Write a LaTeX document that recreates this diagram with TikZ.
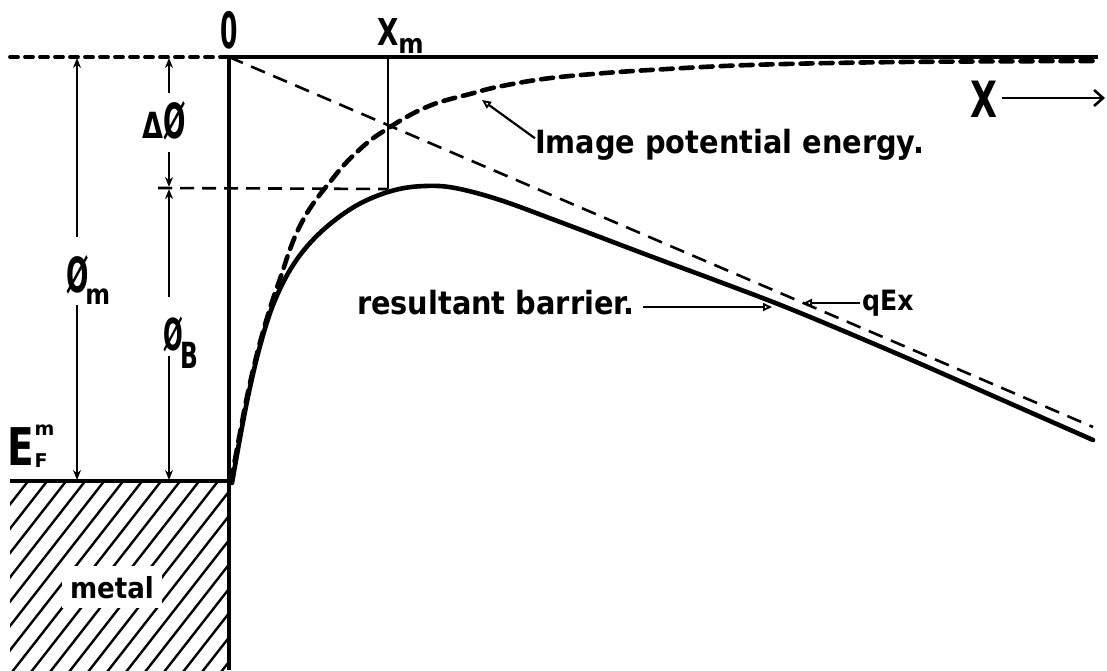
\documentclass[tikz,border=0pt]{standalone}
\usepackage{fontspec}
\setmainfont{DejaVu Sans}
\usetikzlibrary{arrows.meta}
\newcommand\fsz[1]{\fontsize{#1}{#1}\selectfont}
\newcommand\lab[2]{\fsz{#1}\bfseries\scalebox{0.9}[1]{#2}}
\begin{document}
\begin{tikzpicture}[x=1pt,y=-1pt,
  heavy/.style={line width=3.8pt},
  curve/.style={line width=4.6pt, line cap=round, line join=round},
  imgdash/.style={line width=4.6pt, line cap=round, dash pattern=on 12pt off 8pt},
  topdash/.style={line width=3.8pt, line cap=round, dash pattern=on 8pt off 7pt},
  fielddash/.style={line width=2.6pt, dash pattern=on 15pt off 9pt},
  levdash/.style={line width=2.6pt, dash pattern=on 14pt off 8pt},
  dimline/.style={line width=1.9pt},
  dimtip/.style={-{Stealth[length=10pt,width=8pt]}},
  leader/.style={line width=2.2pt, -{Triangle[open,length=9pt,width=8pt,line width=1.8pt]}},
  hatch/.style={line width=2.4pt},
  lbl/.style={inner sep=0pt, outer sep=0pt}]
\useasboundingbox (0,0) rectangle (1107,670);

% key points
\coordinate (tl) at (10,57);
\coordinate (o) at (229,57);
\coordinate (tr) at (1098,57);
\coordinate (wb) at (229,670);
\coordinate (fl) at (10,481);
\coordinate (fo) at (229,481);
\coordinate (qend) at (1093,427);
\coordinate (xmt) at (388,57);
\coordinate (xmb) at (388,189);
\coordinate (lvl) at (158,188);

% metal hatching
\begin{scope}
  \clip (10,483) rectangle (229,670);
  \foreach \k in {0,...,20} {\draw[hatch] ({-140+19*\k},672) -- ({10+19*\k},480);}
\end{scope}
\node[lbl, fill=white, inner xsep=8pt, inner ysep=10pt, anchor=base west] (metal) at (62,598) {\lab{29}{metal}};

% levels and wall
\draw[topdash] (tl) -- (o);
\draw[heavy] (o) -- (tr);
\draw[heavy] (o) -- (wb);
\draw[heavy] (fl) -- (fo);

% field line qEx
\draw[fielddash] (o) -- (qend);

% x_m markers
\draw[line width=1.8pt] (xmt) -- (xmb);
\draw[levdash] (lvl) -- (xmb);

% image potential energy
\draw[imgdash] plot[smooth, tension=0.6] coordinates {(231,481) (239,438) (248,392) (259,346) (271,305) (281,276) (289,252) (297,232) (307,213) (318,197) (330,182) (343,166) (358,151) (372,139) (387,129) (403,119) (420,110) (440,102) (470,94) (497,87) (543,79) (593,74) (650,70) (750,65) (900,62) (1095,61)};

% resultant barrier
\draw[curve] plot[smooth, tension=0.6] coordinates {(232,483) (240,438) (249,392) (260,346) (273,305) (290,270) (310,243) (335,220) (363,202) (395,190) (425,186) (455,188) (500,200) (560,222) (650,256) (720,282) (793,310) (900,355) (1000,399) (1093,440)};

% labels on axes
\node[lbl, anchor=base] (zero) at (229,48) {\fsz{50}\bfseries\scalebox{0.5}[1]{0}};
\node[lbl, anchor=base west] (xm) at (377,45) {\fsz{37}\bfseries\scalebox{0.75}[1]{X}\fsz{27}\raisebox{-8pt}{\scalebox{0.9}[1]{m}}};
\node[lbl, anchor=base west] (xlab) at (970,117) {\fsz{50}\bfseries\scalebox{0.7}[1]{X}};
\coordinate (xend) at (1105,98);
\draw[line width=2.6pt, -{Straight Barb[length=9pt,width=16pt,line width=2.6pt]}] ([xshift=5pt]xlab.east |- xend) -- (xend);

% E_F^m
\node[lbl, anchor=base west] (ef) at (8,465) {\fsz{52}\bfseries\scalebox{0.75}[1]{E}\fsz{19}\rlap{\raisebox{30pt}{m}}\raisebox{-2pt}{F}};

% phi_m dimension
\coordinate (pmt) at (77,58);
\coordinate (pmb) at (77,480);
\coordinate (pmg1) at (77,237);
\coordinate (pmg2) at (77,305);
\draw[dimline, dimtip] (pmg1) -- (pmt);
\draw[dimline, dimtip] (pmg2) -- (pmb);
\node[lbl, anchor=base west] (pm) at (66,292) {\fsz{44}\bfseries\scalebox{0.6}[1.1]{Ø}\kern-3pt\fsz{28}\raisebox{-12pt}{\scalebox{0.85}[1]{m}}};

% delta phi dimension
\coordinate (dt) at (169,58);
\coordinate (dg1) at (169,93);
\coordinate (dg2) at (169,152);
\coordinate (db) at (169,187);
\draw[dimline, dimtip] (dg1) -- (dt);
\draw[dimline, dimtip] (dg2) -- (db);
\node[lbl, anchor=base west] (dph) at (142,138) {\fsz{36}\bfseries\scalebox{0.75}[1]{Δ}\kern1pt\fsz{44}\scalebox{0.6}[1.1]{Ø}};

% phi_B dimension
\coordinate (bt) at (169,189);
\coordinate (bb) at (169,480);
\coordinate (bg1) at (169,297);
\coordinate (bg2) at (169,356);
\draw[dimline, dimtip] (bg1) -- (bt);
\draw[dimline, dimtip] (bg2) -- (bb);
\node[lbl, anchor=base west] (pb) at (163,350) {\fsz{40}\bfseries\scalebox{0.58}[1.1]{Ø}\kern-2pt\fsz{36}\scalebox{0.65}[1]{\raisebox{-18pt}{B}}};

% curve labels
\node[lbl, anchor=base west] (ipe) at (535,153) {\lab{32}{Image potential energy.}};
\coordinate (ipt) at (482,100);
\draw[leader] ([yshift=6pt]ipe.west) -- (ipt);

\node[lbl, anchor=base west] (rb) at (357,314) {\lab{32}{resultant barrier.}};
\coordinate (rbt) at (772,307);
\draw[leader] ([xshift=8pt]rb.east |- rbt) -- (rbt);

\node[lbl, anchor=base west] (qex) at (862,310) {\lab{28}{qEx}};
\coordinate (qt) at (803,303);
\draw[leader] ([xshift=-2pt]qex.west |- qt) -- (qt);
\end{tikzpicture}
\end{document}
